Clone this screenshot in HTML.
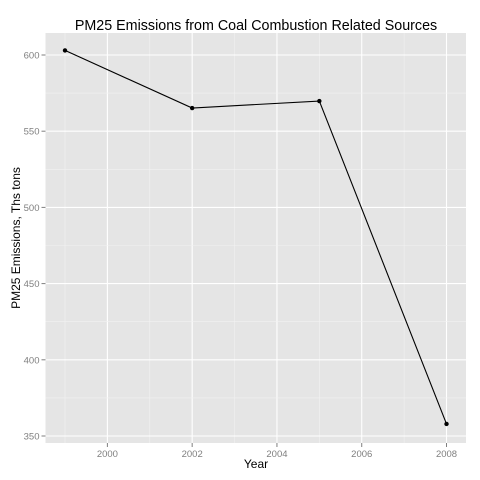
<!DOCTYPE html>
<html><head><meta charset="utf-8"><style>
html,body{margin:0;padding:0;background:#fff;}
svg{display:block;font-family:"Liberation Sans",sans-serif;}
</style></head><body>
<svg id="chart" width="480" height="480">
<text x="256" y="30" text-anchor="middle" font-size="14.3">PM25 Emissions from Coal Combustion Related Sources</text>
<rect x="45.5" y="33" width="420.5" height="410" fill="#e5e5e5"/>
<g id="grid"></g><g id="axes"></g><g id="marks"></g>
<text x="256" y="468" text-anchor="middle" font-size="12">Year</text>
<text transform="translate(20,238) rotate(-90)" text-anchor="middle" font-size="12">PM25 Emissions, Ths tons</text>
</svg>
<script>
const years=[1999,2002,2005,2008];
const emissions=[603,565.2,569.8,357.9];
const xTicks=[2000,2002,2004,2006,2008];
const yTicks=[350,400,450,500,550,600];
const ns="http://www.w3.org/2000/svg";
function X(v){return 65+(v-1999)*42.39;}
function Y(v){return 55+(600-v)*76.2/50;}
function mk(p,t,a){const e=document.createElementNS(ns,t);for(const k in a)e.setAttribute(k,a[k]);document.getElementById(p).appendChild(e);return e;}
const L=45.5,R=466,T=33,B=443;
xTicks.forEach((v,i)=>{
 if(i<xTicks.length-1){const m=mk('grid','line',{x1:X(v+1),x2:X(v+1),y1:T,y2:B,stroke:'#f2f2f2','stroke-width':0.6});
 }
 const g=mk('grid','line',{x1:X(v),x2:X(v),y1:T,y2:B,stroke:'#fff','stroke-width':1.1});
 
 const t=mk('axes','line',{x1:X(v),x2:X(v),y1:B,y2:B+4,stroke:'#7f7f7f'});
 
 const l=mk('axes','text',{x:X(v),y:B+14,'text-anchor':'middle','font-size':9.5,fill:'#7f7f7f'});l.textContent=v;
 
});
const xm=mk('grid','line',{x1:X(1999),x2:X(1999),y1:T,y2:B,stroke:'#f2f2f2','stroke-width':0.6});

yTicks.forEach((v,i)=>{
 if(i<yTicks.length-1){const m=mk('grid','line',{x1:L,x2:R,y1:Y(v+25),y2:Y(v+25),stroke:'#f2f2f2','stroke-width':0.6});
 }
 const g=mk('grid','line',{x1:L,x2:R,y1:Y(v),y2:Y(v),stroke:'#fff','stroke-width':1.1});
 
 const t=mk('axes','line',{x1:L-4,x2:L,y1:Y(v),y2:Y(v),stroke:'#7f7f7f'});
 
 const l=mk('axes','text',{x:L-6,y:Y(v)+3.5,'text-anchor':'end','font-size':9.5,fill:'#7f7f7f'});l.textContent=v;
 
});
const line=mk('marks','polyline',{points:years.map((y,i)=>X(y)+','+Y(emissions[i])).join(' '),fill:'none',stroke:'#000','stroke-width':1.1});

years.forEach((y,i)=>{
 const c=mk('marks','circle',{cx:X(y),cy:Y(emissions[i]),r:2.2,fill:'#000'});
 
});
</script>
</body></html>
